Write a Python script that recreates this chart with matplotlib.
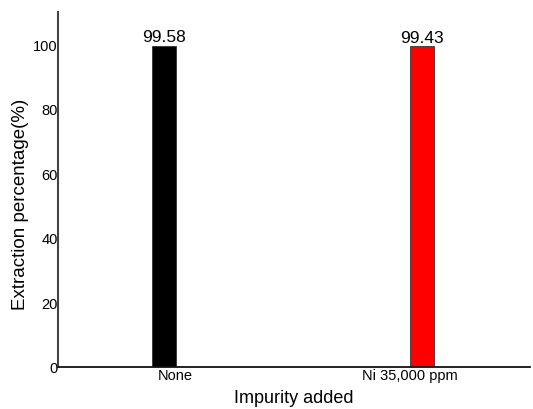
import matplotlib.pyplot as plt
import numpy as np

plt.rcParams['font.family'] = ['Liberation Sans', 'DejaVu Sans']

# data
categories = ['None', 'Ni 35,000 ppm']
values = [99.58, 99.43]
bar_colors = ['#000000', '#ff0000']
value_labels = ['99.58', '99.43']

fig = plt.figure(figsize=(5.33, 4.10), dpi=100)
ax = fig.add_axes([58/533, 1 - 368/410, 472/533, 355/410])

x = np.arange(len(categories))
bars = ax.bar(x, values, width=0.093, color=bar_colors, edgecolor='#333333', linewidth=0.6)

for b, lab in zip(bars, value_labels):
    ax.text(b.get_x() + b.get_width()/2, b.get_height() + 0.4, lab,
            ha='center', va='bottom', fontsize=12.5)

ax.set_xlim(-0.412, 1.421)
ax.set_ylim(0, 110)
ax.set_yticks([0, 20, 40, 60, 80, 100])
ax.set_xticks(x + np.array([0.043, -0.045]))
ax.set_xticklabels(categories, fontsize=10.5)
ax.tick_params(axis='both', length=0, labelsize=10.5, pad=1)
ax.tick_params(axis='y', pad=0)

ax.set_ylabel('Extraction percentage(%)', fontsize=13.5, y=0.46, labelpad=3)
ax.set_xlabel('Impurity added', fontsize=13, labelpad=5)

for s in ['top', 'right']:
    ax.spines[s].set_visible(False)
ax.spines['left'].set_color('#444444')
ax.spines['left'].set_linewidth(1.5)
ax.spines['bottom'].set_color('#111111')
ax.spines['bottom'].set_linewidth(1.3)

fig.savefig('out.png', dpi=100)
